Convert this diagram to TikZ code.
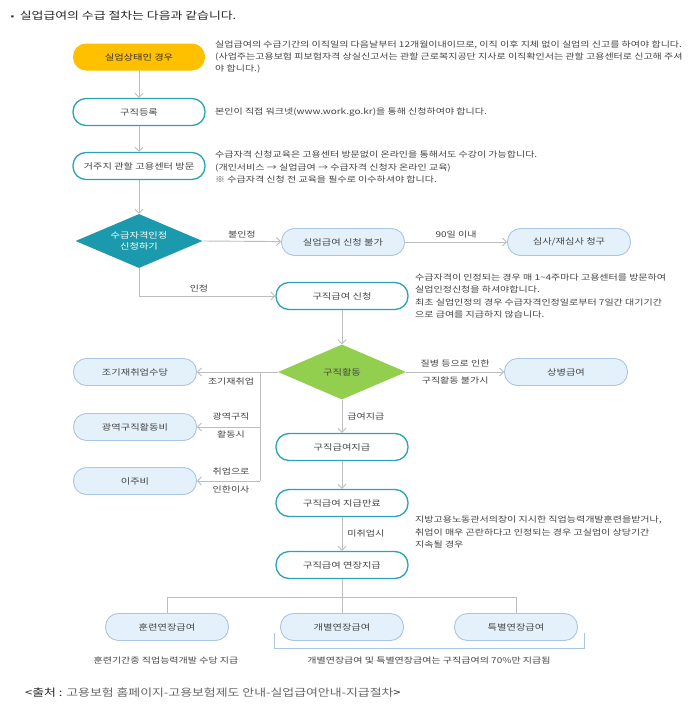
\documentclass[tikz,border=0pt]{standalone}
\usepackage{fontspec}
\setmainfont[FakeStretch=1.25]{Noto Sans CJK KR}
\usetikzlibrary{shapes.geometric,arrows.meta}
\definecolor{teal1}{HTML}{2AA3B6}
\definecolor{tealfill}{HTML}{1B9AAE}
\definecolor{yel}{HTML}{FFC000}
\definecolor{lbfill}{HTML}{E4F1FA}
\definecolor{lbline}{HTML}{A8C6E6}
\definecolor{grn}{HTML}{92CF4E}
\definecolor{arr}{HTML}{BDBDBD}
\definecolor{txt}{HTML}{444444}
\tikzset{
 base/.style={rounded corners=13pt,minimum height=27pt,font=\fontsize{8.2}{9}\selectfont,text=txt},
 ybox/.style={base,fill=yel,minimum width=132pt,text=black!80},
 tbox/.style={base,draw=teal1,line width=1.3pt,fill=white,minimum width=132pt},
 lbox/.style={base,draw=lbline,line width=0.9pt,fill=lbfill,minimum width=123pt},
 desc/.style={anchor=west,align=left,font=\fontsize{8}{12.3}\selectfont,text=txt,inner sep=0pt},
 lbl/.style={font=\fontsize{8}{9}\selectfont,text=txt,inner sep=1pt},
 con/.style={draw=arr,line width=0.9pt},
 ar/.style={con,-{Straight Barb[length=4pt,width=8pt]}},
}
\begin{document}
\begin{tikzpicture}[x=1pt,y=-1pt]
\useasboundingbox (0,0) rectangle (696,712);
\fill[white] (0,0) rectangle (696,712);
\node[anchor=west,font=\fontsize{10.3}{12}\selectfont,text=black!85,inner sep=0pt] (title) at (8,16) {{\fontsize{7}{8}\selectfont ▪} 실업급여의 수급 절차는 다음과 같습니다.};
% column 1
\node[ybox] (y1) at (139,57) {실업상태인 경우};
\node[desc] (d1) at (215,57) {실업급여의 수급기간의 이직일의 다음날부터 12개월이내이므로, 이직 이후 지체 없이 실업의 신고를 하여야 합니다.\\(사업주는고용보험 피보험자격 상실신고서는 관할 근로복지공단 지사로 이직확인서는 관할 고용센터로 신고해 주셔\\야 합니다.)};
\node[tbox] (b2) at (139,112) {구직등록};
\node[desc] (d2) at (215,112) {본인이 직접 워크넷(www.work.go.kr)을 통해 신청하여야 합니다.};
\node[tbox] (b3) at (139,166) {거주지 관할 고용센터 방문};
\node[desc] (d3) at (215,167) {수급자격 신청교육은 고용센터 방문없이 온라인을 통해서도 수강이 가능합니다.\\(개인서비스 → 실업급여 → 수급자격 신청자 온라인 교육)\\※ 수급자격 신청 전 교육을 필수로 이수하셔야 합니다.};
\node[diamond,fill=tealfill,minimum width=127pt,minimum height=54pt,aspect=2.35,inner sep=0pt,text=white,align=center,font=\fontsize{8.2}{11.5}\selectfont] (dm1) at (139,241) {수급자격인정\\신청하기};
\draw[ar] (y1) -- (b2);
\draw[ar] (b2) -- (b3);
\draw[ar] (b3) -- (dm1);
% row 2
\node[lbox] (n1) at (343,242) {실업급여 신청 불가};
\node[lbox] (n2) at (569,242) {심사/재심사 청구};
\draw[ar] (dm1.east) -- node[lbl,above=2pt,pos=0.5] {불인정} (n1);
\draw[ar] (n1) -- node[lbl,above=2pt] {90일 이내} (n2);
% main column
\node[tbox] (m1) at (342,296) {구직급여 신청};
\node[desc] (d4) at (415,296) {수급자격이 인정되는 경우 매 1\char`\~4주마다 고용센터를 방문하여\\실업인정신청을 하셔야합니다.\\최초 실업인정의 경우 수급자격인정일로부터 7일간 대기기간\\으로 급여를 지급하지 않습니다.};
\draw[ar] (dm1.south) |- node[lbl,above=2pt,pos=0.72] {인정} (m1.west);
\node[diamond,fill=grn,minimum width=128pt,minimum height=55pt,aspect=2.35,inner sep=0pt,font=\fontsize{8.2}{9}\selectfont,text=txt] (dm2) at (342,372) {구직활동};
\draw[ar] (m1) -- (dm2);
\node[lbox] (s1) at (566,372) {상병급여};
\draw[ar] (dm2.east) -- node[lbl,above=3pt] {질병 등으로 인한} node[lbl,below=3pt] {구직활동 불가시} (s1);
% left
\node[lbox] (l1) at (135,372) {조기재취업수당};
\node[lbox] (l2) at (135,427) {광역구직활동비};
\node[lbox] (l3) at (135,481) {이주비};
\coordinate (j1) at (260,372);
\coordinate (j2) at (260,427);
\coordinate (j3) at (260,481);
\draw[con] (dm2.west) -- (j1) -- (j3);
\draw[ar] (j1) -- (l1);
\draw[ar] (j2) -- (l2);
\draw[ar] (j3) -- (l3);
\node[lbl] (t1) at (231,381) {조기재취업};
\node[lbl,align=center,font=\fontsize{8}{18}\selectfont] (t2) at (231,426) {광역구직\\활동시};
\node[lbl,align=center,font=\fontsize{8}{18}\selectfont] (t3) at (231,481) {취업으로\\인한이사};
% lower main
\node[tbox] (m2) at (342,447) {구직급여지급};
\draw[ar] (dm2.south) -- node[lbl,right=4pt] {급여지급} (m2);
\node[tbox] (m3) at (342,503) {구직급여 지급만료};
\draw[ar] (m2) -- (m3);
\node[tbox] (m4) at (342,565) {구직급여 연장지급};
\draw[ar] (m3) -- node[lbl,right=4pt] {미취업시} (m4);
\node[desc] (d5) at (415,532) {지방고용노동관서의장이 지시한 직업능력개발훈련을받거나,\\취업이 매우 곤란하다고 인정되는 경우 고실업이 상당기간\\지속될 경우};
% bottom
\node[lbox] (e1) at (167,627) {훈련연장급여};
\node[lbox] (e2) at (342,627) {개별연장급여};
\node[lbox] (e3) at (516,627) {특별연장급여};
\coordinate (h1) at (167,597);
\coordinate (h3) at (516,597);
\draw[con] (m4.south) -- (e2.north);
\draw[con] (e1.north) -- (h1) -- (h3) -- (e3.north);
\draw[lbline,line width=0.9pt] (274,633) -- (274,648) -- (584,648) -- (584,633);
\node[lbl] (c1) at (166,660) {훈련기간중 직업능력개발 수당 지급};
\node[lbl] (c2) at (429,660) {개별연장급여 및 특별연장급여는 구직급여의 70\%만 지급됨};
\node[anchor=west,inner sep=0pt,font=\fontsize{10.3}{12}\selectfont,text=black!60] (src) at (25,693) {{\color{black!85}<출처 :} 고용보험 홈페이지-고용보험제도 안내-실업급여안내-지급절차{\color{black!85}>}};
\end{tikzpicture}
\end{document}
